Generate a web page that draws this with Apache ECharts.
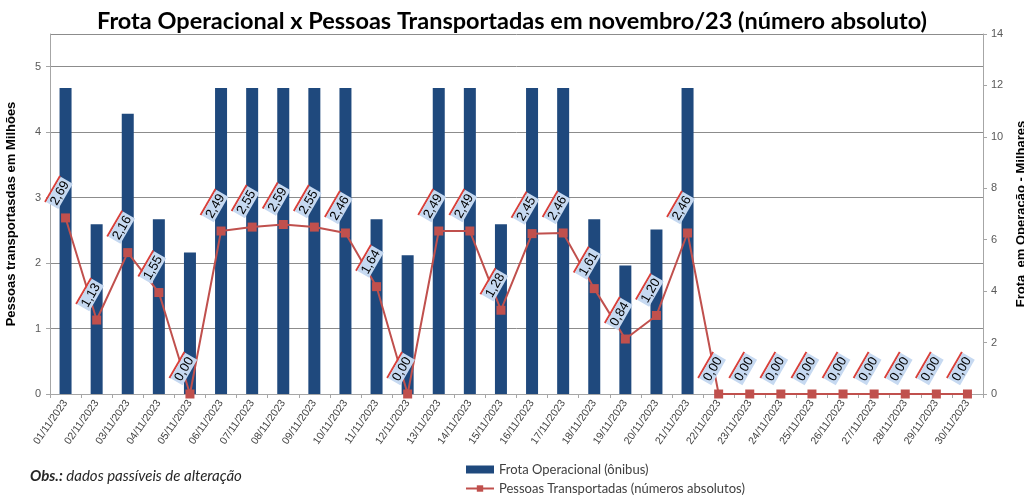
<!DOCTYPE html>
<html>
<head>
<meta charset="utf-8">
<script src="https://cdn.jsdelivr.net/npm/echarts@6/dist/echarts.min.js"></script>
<style>
  html, body { margin: 0; padding: 0; background: #fff; }
  #chart { width: 1024px; height: 500px; }
</style>
</head>
<body>
<div id="chart"></div>
<script>
var dias = ['01/11/2023', '02/11/2023', '03/11/2023', '04/11/2023', '05/11/2023', '06/11/2023',
    '07/11/2023', '08/11/2023', '09/11/2023', '10/11/2023', '11/11/2023', '12/11/2023',
    '13/11/2023', '14/11/2023', '15/11/2023', '16/11/2023', '17/11/2023', '18/11/2023',
    '19/11/2023', '20/11/2023', '21/11/2023', '22/11/2023', '23/11/2023', '24/11/2023',
    '25/11/2023', '26/11/2023', '27/11/2023', '28/11/2023', '29/11/2023', '30/11/2023'];

// frota em operação (milhares) - eixo direito
var frota = [11.9, 6.6, 10.9, 6.8, 5.5, 11.9, 11.9, 11.9, 11.9, 11.9, 6.8, 5.4,
    11.9, 11.9, 6.6, 11.9, 11.9, 6.8, 5.0, 6.4, 11.9, 0, 0, 0, 0, 0, 0, 0, 0, 0];

// pessoas transportadas (milhões) - eixo esquerdo
var pessoas = [2.69, 1.13, 2.16, 1.55, 0.00, 2.49, 2.55, 2.59, 2.55, 2.46, 1.64, 0.00,
    2.49, 2.49, 1.28, 2.45, 2.46, 1.61, 0.84, 1.20, 2.46, 0.00, 0.00, 0.00, 0.00, 0.00,
    0.00, 0.00, 0.00, 0.00];

var ticksEsq = { min: 0, max: 5.5, interval: 1 };
var ticksDir = { min: 0, max: 14, interval: 2 };

var myChart = echarts.init(document.getElementById('chart'));

var option = {
    backgroundColor: '#fff',
    animation: false,
    title: {
        text: 'Frota Operacional x Pessoas Transportadas em novembro/23 (número absoluto)',
        left: 'center',
        top: 9,
        backgroundColor: '#fff',
        padding: [0, 4],
        z: 20,
        textStyle: { fontFamily: 'Lato', fontSize: 23.5, fontWeight: 'bold', color: '#000' }
    },
    grid: { left: 50, right: 41, top: 34, bottom: 106, outerBoundsMode: 'none', containLabel: false },
    legend: {
        orient: 'vertical',
        left: 460,
        bottom: 0,
        itemGap: 6,
        itemWidth: 28,
        itemHeight: 8,
        textStyle: { fontFamily: 'Lato', fontSize: 13, color: '#404040' },
        data: [
            { name: 'Frota Operacional (ônibus)', icon: 'rect' },
            { name: 'Pessoas Transportadas (números absolutos)' }
        ]
    },
    graphic: [{
        type: 'text',
        left: 30,
        top: 469,
        style: {
            text: '{b|Obs.:} dados passíveis de alteração',
            fontFamily: 'Lato',
            fontSize: 15,
            fontStyle: 'italic',
            fill: '#262626',
            rich: { b: { fontWeight: 'bold', fontStyle: 'italic', fontFamily: 'Lato', fontSize: 15 } }
        }
    }],
    xAxis: {
        type: 'category',
        data: dias,
        axisLine: { lineStyle: { color: '#a6a6a6' } },
        axisTick: { show: true, interval: 0, length: 4, lineStyle: { color: '#a6a6a6' } },
        axisLabel: { interval: 0, rotate: 55, fontSize: 10.5, color: '#404040', margin: 7, fontFamily: 'Liberation Sans' }
    },
    yAxis: [
        {
            type: 'value',
            min: ticksEsq.min, max: ticksEsq.max, interval: ticksEsq.interval,
            name: 'Pessoas transportasdas em Milhões',
            nameLocation: 'middle',
            nameGap: 32,
            nameTextStyle: { fontFamily: 'Liberation Sans', fontSize: 13, fontWeight: 'bold', color: '#000' },
            axisLine: { show: true, lineStyle: { color: '#a6a6a6' } },
            axisTick: { show: true, length: 4, lineStyle: { color: '#a6a6a6' } },
            axisLabel: { showMaxLabel: false, fontSize: 11, color: '#595959', margin: 9 },
            splitLine: { lineStyle: { color: '#8c8c8c' } }
        },
        {
            type: 'value',
            min: ticksDir.min, max: ticksDir.max, interval: ticksDir.interval,
            name: 'Frota  em Operação - Milhares',
            nameLocation: 'middle',
            nameGap: 32,
            nameRotate: 90,
            nameTextStyle: { fontFamily: 'Liberation Sans', fontSize: 13, fontWeight: 'bold', color: '#000' },
            axisLine: { show: true, lineStyle: { color: '#a6a6a6' } },
            axisTick: { show: true, length: 4, lineStyle: { color: '#a6a6a6' } },
            axisLabel: { fontSize: 11, color: '#595959', margin: 8 },
            splitLine: { show: false }
        }
    ],
    series: [
        {
            name: 'Frota Operacional (ônibus)',
            type: 'bar',
            yAxisIndex: 1,
            barWidth: 12,
            data: frota,
            itemStyle: { color: '#1f497d' }
        },
        {
            name: 'Pessoas Transportadas (números absolutos)',
            type: 'line',
            yAxisIndex: 0,
            data: pessoas,
            symbol: 'rect',
            symbolSize: 9,
            lineStyle: { color: '#c0504d', width: 2 },
            itemStyle: { color: '#c0504d' },
            z: 5,
            label: {
                show: true,
                position: 'top',
                distance: 17,
                rotate: 60,
                formatter: function (p) {
                    return '{u|}\n{v|' + p.value.toFixed(2).replace('.', ',') + '}';
                },
                rich: {
                    u: { width: 30, height: 2, backgroundColor: '#d9403a' },
                    v: { backgroundColor: '#c6d9f1', fontFamily: 'Liberation Sans', fontSize: 13, color: '#000', padding: [1, 2, 0, 2], align: 'center' }
                }
            }
        }
    ]
};

myChart.setOption(option, true);
</script>
</body>
</html>
